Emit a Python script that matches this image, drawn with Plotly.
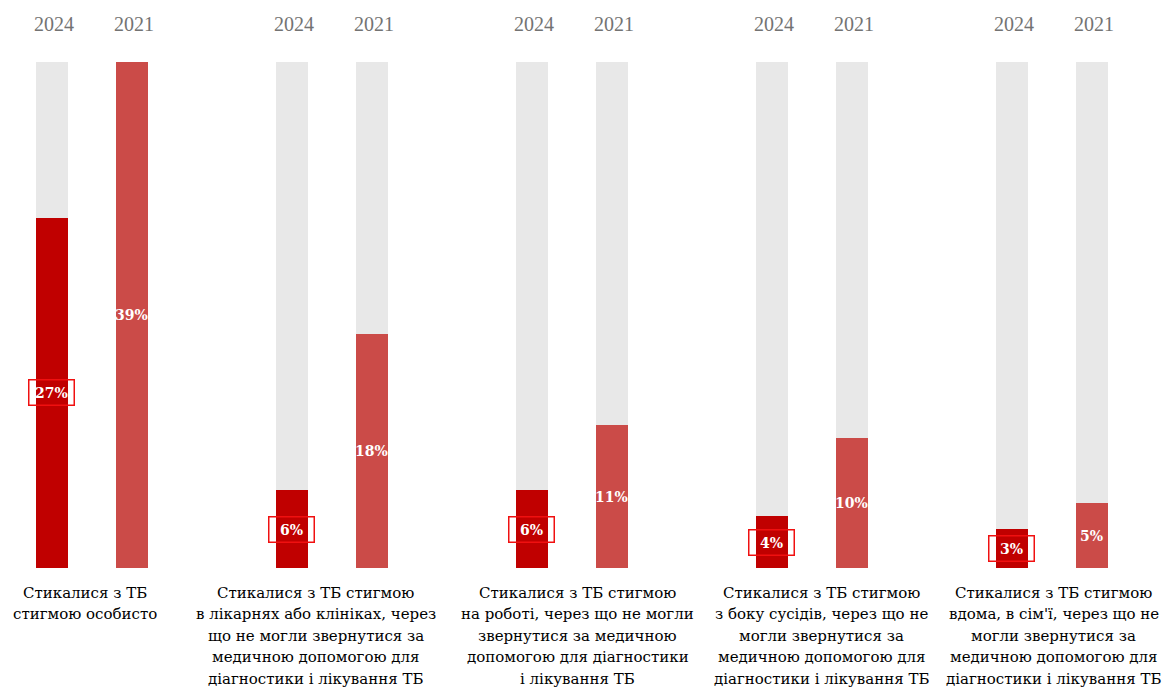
import plotly.graph_objects as go

# Survey shares (%) of people who faced TB stigma, by setting
categories = [
    ["Стикалися з ТБ", "стигмою особисто"],
    ["Стикалися з ТБ стигмою", "в лікарнях або клініках, через", "що не могли звернутися за",
     "медичною допомогою для", "діагностики і лікування ТБ"],
    ["Стикалися з ТБ стигмою", "на роботі, через що не могли", "звернутися за медичною",
     "допомогою для діагностики", "і лікування ТБ"],
    ["Стикалися з ТБ стигмою", "з боку сусідів, через що не", "могли звернутися за",
     "медичною допомогою для", "діагностики і лікування ТБ"],
    ["Стикалися з ТБ стигмою", "вдома, в сім'ї, через що не", "могли звернутися за",
     "медичною допомогою для", "діагностики і лікування ТБ"],
]
years = ["2024", "2021"]
values_2024 = [27, 6, 6, 4, 3]
values_2021 = [39, 18, 11, 10, 5]

C2024 = "#C00000"
C2021 = "#CB4B48"
TRACK = "#E8E8E8"
YEAR_FONT = "Liberation Serif"
CAPTION_FONT = "DejaVu Serif"
LABEL_FONT = "DejaVu Serif"

n = len(categories)
offset = 1 / 6
bar_w = 0.1333
top = max(values_2024 + values_2021)
line_step = 21.4                       # caption line spacing, px
caption_xshift = [-7, -16, 6, 10, 2]   # caption text boxes sit slightly off the pair centre, px

x24 = [i - offset for i in range(n)]
x21 = [i + offset for i in range(n)]

fig = go.Figure()
# grey tracks behind every bar
fig.add_trace(go.Bar(x=x24 + x21, y=[top] * (2 * n), width=bar_w,
                     marker=dict(color=TRACK, line=dict(width=0)),
                     hoverinfo="skip", showlegend=False))
fig.add_trace(go.Bar(x=x24, y=values_2024, width=bar_w, name=years[0],
                     marker=dict(color=C2024, line=dict(width=0)), showlegend=False))
fig.add_trace(go.Bar(x=x21, y=values_2021, width=bar_w, name=years[1],
                     marker=dict(color=C2021, line=dict(width=0)), showlegend=False))

ann = []
for i in range(n):
    # value labels in the middle of each bar
    ann.append(dict(x=x24[i], y=values_2024[i] / 2, text=f"<b>{values_2024[i]}%</b>",
                    showarrow=False, font=dict(family=LABEL_FONT, size=14, color="white"),
                    bordercolor="#F01010", borderwidth=1.5, borderpad=2, width=40, height=20,
                    xanchor="center", yanchor="middle"))
    ann.append(dict(x=x21[i], y=values_2021[i] / 2, text=f"<b>{values_2021[i]}%</b>",
                    showarrow=False, font=dict(family=LABEL_FONT, size=14, color="white"),
                    xanchor="center", yanchor="middle"))
    # year headers
    for xx, yr in ((x24[i], years[0]), (x21[i], years[1])):
        ann.append(dict(x=xx, y=1.075, yref="paper", text=yr, showarrow=False, xshift=2,
                        font=dict(family=YEAR_FONT, size=20, color="#737373"),
                        xanchor="center", yanchor="middle"))
    # category captions under each pair, one annotation per line
    for k, line in enumerate(categories[i]):
        ann.append(dict(x=i, y=0, text=line, showarrow=False,
                        xshift=caption_xshift[i], yshift=-25 - k * line_step,
                        font=dict(family=CAPTION_FONT, size=15, color="#000000"),
                        xanchor="center", yanchor="middle"))

fig.update_layout(
    width=1167, height=687,
    margin=dict(l=0, r=0, t=62, b=119),
    paper_bgcolor="white", plot_bgcolor="white",
    barmode="overlay", bargap=0,
    xaxis=dict(range=[-91.5 / 240, (1167 - 91.5) / 240], visible=False, fixedrange=True),
    yaxis=dict(range=[0, top], visible=False, fixedrange=True),
    annotations=ann,
)
fig.write_html("out.html")
